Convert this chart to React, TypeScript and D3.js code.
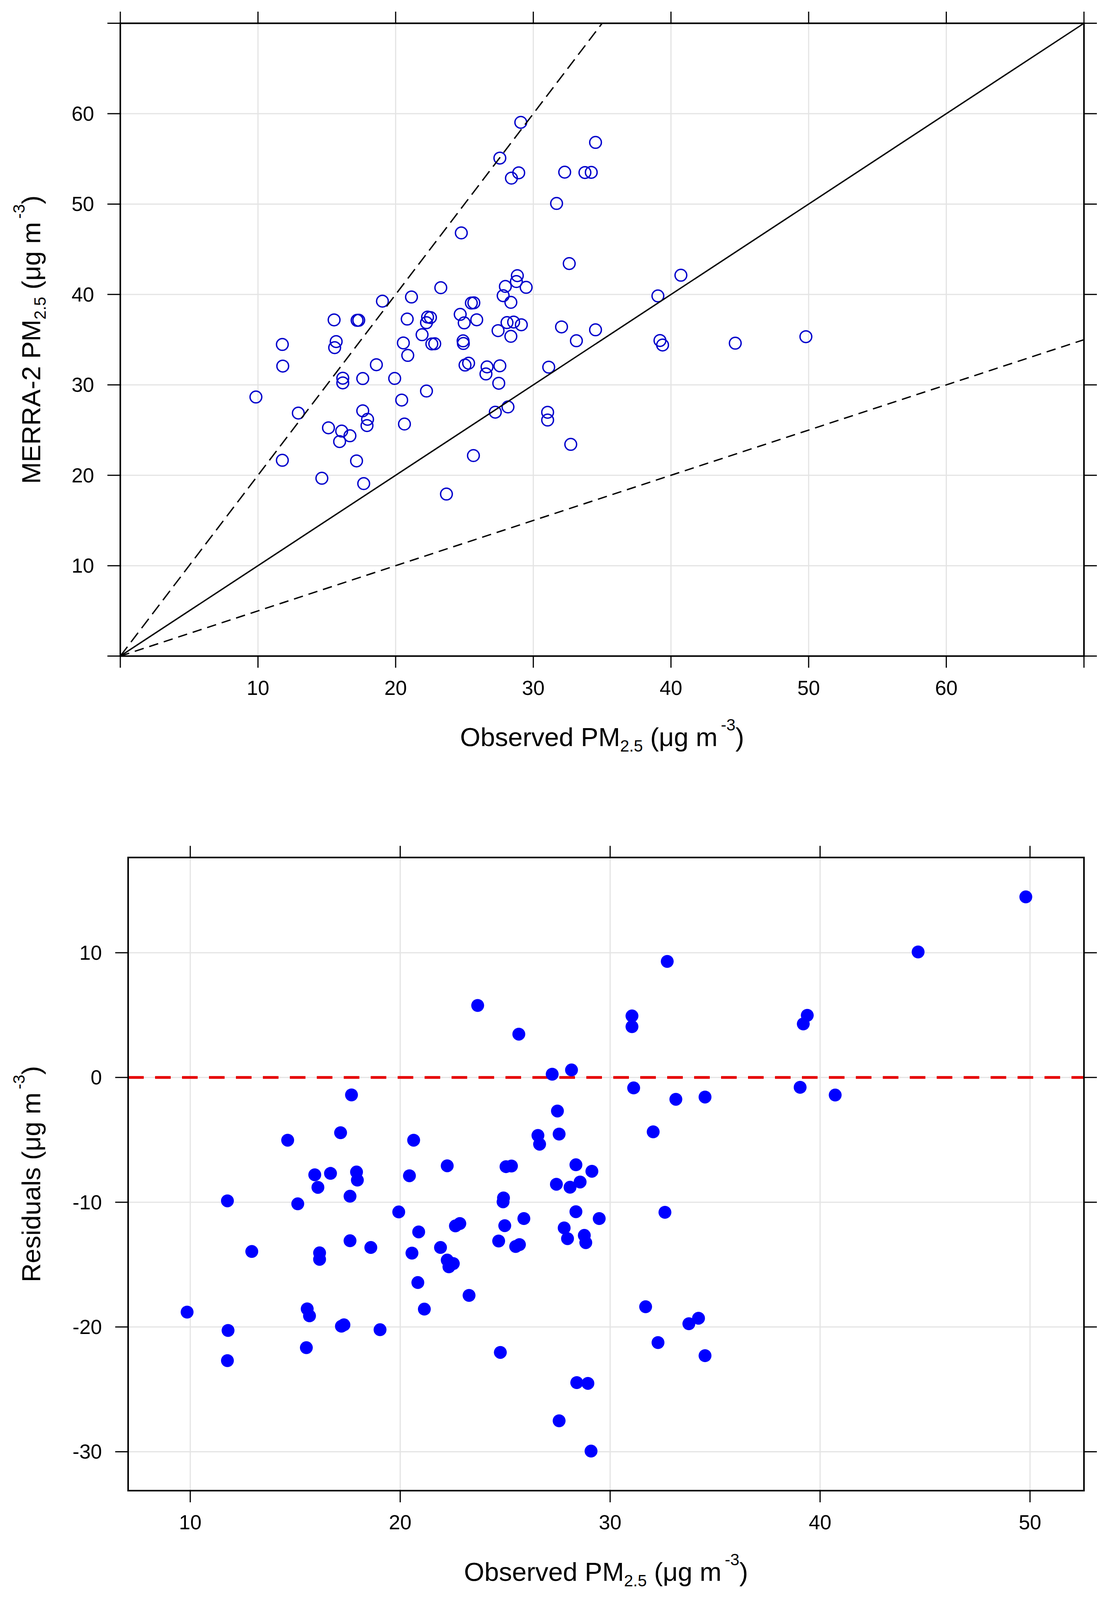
import React, { useEffect } from "react";
import * as d3 from "d3";

// Observed PM2.5 (µg m-3)
const observed = [
  9.85, 11.77, 11.8, 11.77, 12.93, 14.64, 15.12, 15.57, 15.68, 15.53,
  15.93, 16.08, 16.16, 16.16, 16.68, 17.16, 17.2, 17.32, 17.61, 17.61,
  17.68, 17.92, 17.96, 18.6, 19.04, 19.93, 20.44, 20.56, 20.64, 20.84,
  20.88, 21.15, 21.92, 22.24, 22.24, 22.32, 22.53, 22.63, 22.84, 23.28,
  23.69, 24.69, 24.77, 24.9, 24.92, 24.98, 25.04, 25.3, 25.5, 25.68,
  25.65, 25.89, 26.56, 26.64, 27.24, 27.44, 27.49, 27.57, 27.57, 27.81,
  27.97, 28.09, 28.16, 28.37, 28.37, 28.41, 28.57, 28.77, 28.84, 28.94,
  29.09, 29.13, 29.48, 31.04, 31.04, 31.12, 31.69, 32.05, 32.28, 32.61,
  32.72, 33.13, 33.75, 34.21, 34.52, 34.52, 39.05, 39.2, 39.39, 40.72,
  44.67, 49.8,
];

// MERRA-2 PM2.5 (µg m-3)
const merra = [
  28.66, 21.66, 32.08, 34.47, 26.88, 19.67, 25.25, 34.12, 34.79, 37.19,
  23.73, 24.89, 30.22, 30.74, 24.37, 21.59, 37.14, 37.15, 27.13, 30.7,
  19.08, 25.5, 26.19, 32.23, 39.26, 30.71, 28.32, 34.64, 25.67, 37.28,
  33.26, 39.72, 35.55, 29.32, 36.88, 37.5, 37.45, 34.53, 34.55, 40.75,
  17.92, 37.8, 46.81, 34.87, 34.58, 36.86, 32.19, 32.4, 39.05, 39.08,
  22.18, 37.2, 31.21, 31.99, 26.98, 36.0, 30.18, 32.11, 55.09, 39.87,
  40.89, 36.89, 27.56, 35.37, 39.13, 52.87, 36.95, 41.43, 42.08, 53.46,
  59.04, 36.65, 40.79, 26.11, 26.97, 31.96, 50.07, 36.41, 53.53, 43.42,
  23.42, 34.88, 53.49, 53.51, 36.09, 56.82, 39.84, 34.91, 34.41, 42.13,
  34.61, 35.33,
];

// Residuals (µg m-3)
const residuals = [
  -18.81, -9.89, -20.28, -22.7, -13.95, -5.03, -10.13, -18.55, -19.11, -21.66,
  -7.8, -8.81, -14.06, -14.58, -7.69, -4.43, -19.94, -19.83, -9.52, -13.09,
  -1.4, -7.58, -8.23, -13.63, -20.22, -10.78, -7.88, -14.08, -5.03, -16.44,
  -12.38, -18.57, -13.63, -7.08, -14.64, -15.18, -14.92, -11.9, -11.71, -17.47,
  5.77, -13.11, -22.04, -9.97, -9.66, -11.88, -7.15, -7.1, -13.55, -13.4,
  3.47, -11.31, -4.65, -5.35, 0.26, -8.56, -2.69, -4.54, -27.52, -12.06,
  -12.92, -8.8, 0.6, -7.0, -10.76, -24.46, -8.38, -12.66, -13.24, -24.52,
  -29.95, -7.52, -11.31, 4.93, 4.07, -0.84, -18.38, -4.36, -21.25, -10.81,
  9.3, -1.75, -19.74, -19.3, -1.57, -22.3, -0.79, 4.29, 4.98, -1.41,
  10.06, 14.47,
];

const topTickMarks = [0, 10, 20, 30, 40, 50, 60, 70];
const topTickLabels = [10, 20, 30, 40, 50, 60];
const botXTicks = [10, 20, 30, 40, 50];
const botYTicks = [-30, -20, -10, 0, 10];
const refLines = [
  { slope: 1, dash: "none" },
  { slope: 2, dash: "30 15" },
  { slope: 0.5, dash: "24 15" },
];

const FONT = "'Liberation Sans', Arial, Helvetica, sans-serif";
const TICK_FS = 52;
const TITLE_FS = 67;
const SUB_FS = 42;

const W = 2857;
const H_REF = 4536;

function XTitle({ x, y }: { x: number; y: number }) {
  return (
    <text x={x} y={y} textAnchor="middle" fontFamily={FONT} fontSize={TITLE_FS} fill="#000">
      Observed PM
      <tspan fontSize={SUB_FS} dy={14}>2.5</tspan>
      <tspan dy={-14}> (μg m</tspan>
      <tspan fontSize={SUB_FS} dy={-40}>{"\u2009-3"}</tspan>
      <tspan dy={40}>)</tspan>
    </text>
  );
}

function YTitle({ x, y, prefix }: { x: number; y: number; prefix: string }) {
  if (prefix === "Residuals") {
    return (
      <text transform={`translate(${x},${y}) rotate(-90)`} textAnchor="middle" fontFamily={FONT} fontSize={TITLE_FS} fill="#000">
        Residuals (μg m
        <tspan fontSize={SUB_FS} dy={-40}>{"\u2009-3"}</tspan>
        <tspan dy={40}>)</tspan>
      </text>
    );
  }
  return (
    <text transform={`translate(${x},${y}) rotate(-90)`} textAnchor="middle" fontFamily={FONT} fontSize={TITLE_FS} fill="#000">
      {prefix} PM
      <tspan fontSize={SUB_FS} dy={14}>2.5</tspan>
      <tspan dy={-14}> (μg m</tspan>
      <tspan fontSize={SUB_FS} dy={-40}>{"\u2009-3"}</tspan>
      <tspan dy={40}>)</tspan>
    </text>
  );
}

export default function App() {
  useEffect(() => {
    document.body.style.margin = "0";
    document.documentElement.style.overflow = "hidden";
  }, []);

  // fit the reference layout to the actual viewport height
  const vh = typeof window !== "undefined" && window.innerHeight > 0 ? window.innerHeight : H_REF;
  const H = Math.min(H_REF, vh);
  const k = H / H_REF;
  const Y = (v: number) => v * k;

  // ---- top panel ----
  const xT = d3.scaleLinear().domain([0, 70]).range([308, 2775]);
  const yT = d3.scaleLinear().domain([0, 70]).range([Y(1860), Y(66)]);
  const [tL, tR] = xT.range();
  const [tB, tTop] = yT.range();

  // ---- bottom panel ----
  const xB = d3.scaleLinear().domain([7.04, 52.57]).range([328, 2775]);
  const yB = d3.scaleLinear().domain([-33.12, 17.63]).range([Y(4226), Y(2431)]);
  const [bL, bR] = xB.range();
  const [bB, bTop] = yB.range();

  const TL = 33;
  const TLV = 33 * k;
  const gridColor = "#e4e4e4";

  const lineGen = d3.line<[number, number]>().x((d) => xT(d[0])).y((d) => yT(d[1]));

  return (
    <svg width={W} height={H} viewBox={`0 0 ${W} ${H}`} style={{ display: "block", background: "#fff" }}>
      <rect x={0} y={0} width={W} height={H} fill="#fff" />

      {/* ================= TOP PANEL ================= */}
      <g>
        {topTickLabels.map((v) => (
          <line key={"tgx" + v} x1={xT(v)} x2={xT(v)} y1={tTop} y2={tB} stroke={gridColor} strokeWidth={3} />
        ))}
        {topTickLabels.map((v) => (
          <line key={"tgy" + v} x1={tL} x2={tR} y1={yT(v)} y2={yT(v)} stroke={gridColor} strokeWidth={3} />
        ))}
        {observed.map((o, i) => (
          <circle key={"tp" + i} cx={xT(o)} cy={yT(merra[i])} r={15} fill="none" stroke="#0000cc" strokeWidth={3.5} />
        ))}
        {refLines.map((r, i) => {
          const xEnd = Math.min(70, 70 / r.slope);
          return (
            <path key={"ref" + i} d={lineGen([[0, 0], [xEnd, xEnd * r.slope]]) as string} fill="none" stroke="#000" strokeWidth={3.5} strokeDasharray={r.dash} />
          );
        })}
        <rect x={tL} y={tTop} width={tR - tL} height={tB - tTop} fill="none" stroke="#000" strokeWidth={4} />
        {topTickMarks.map((v) => (
          <g key={"tt" + v}>
            <line x1={xT(v)} x2={xT(v)} y1={tB} y2={tB + TLV} stroke="#000" strokeWidth={3} />
            <line x1={xT(v)} x2={xT(v)} y1={tTop} y2={tTop - TLV} stroke="#000" strokeWidth={3} />
            <line x1={tL} x2={tL - TL} y1={yT(v)} y2={yT(v)} stroke="#000" strokeWidth={3} />
            <line x1={tR} x2={tR + TL} y1={yT(v)} y2={yT(v)} stroke="#000" strokeWidth={3} />
          </g>
        ))}
        {topTickLabels.map((v) => (
          <text key={"txl" + v} x={xT(v)} y={tB + Y(90) + 18} textAnchor="middle" fontFamily={FONT} fontSize={TICK_FS}>{v}</text>
        ))}
        {topTickLabels.map((v) => (
          <text key={"tyl" + v} x={tL - 67} y={yT(v) + 18} textAnchor="end" fontFamily={FONT} fontSize={TICK_FS}>{v}</text>
        ))}
        <XTitle x={(tL + tR) / 2} y={tB + Y(229) + 24} />
        <YTitle x={103} y={(tTop + tB) / 2} prefix="MERRA-2" />
      </g>

      {/* ================= BOTTOM PANEL ================= */}
      <g>
        {botXTicks.map((v) => (
          <line key={"bgx" + v} x1={xB(v)} x2={xB(v)} y1={bTop} y2={bB} stroke={gridColor} strokeWidth={3} />
        ))}
        {botYTicks.map((v) => (
          <line key={"bgy" + v} x1={bL} x2={bR} y1={yB(v)} y2={yB(v)} stroke={gridColor} strokeWidth={3} />
        ))}
        <line x1={bL} x2={bR} y1={yB(0)} y2={yB(0)} stroke="#e60000" strokeWidth={7} strokeDasharray="40 29" />
        {observed.map((o, i) => (
          <circle key={"bp" + i} cx={xB(o)} cy={yB(residuals[i])} r={16.5} fill="#0000ff" />
        ))}
        <rect x={bL} y={bTop} width={bR - bL} height={bB - bTop} fill="none" stroke="#000" strokeWidth={4} />
        {botXTicks.map((v) => (
          <g key={"bxt" + v}>
            <line x1={xB(v)} x2={xB(v)} y1={bB} y2={bB + TLV} stroke="#000" strokeWidth={3} />
            <line x1={xB(v)} x2={xB(v)} y1={bTop} y2={bTop - TLV} stroke="#000" strokeWidth={3} />
            <text x={xB(v)} y={bB + Y(90) + 18} textAnchor="middle" fontFamily={FONT} fontSize={TICK_FS}>{v}</text>
          </g>
        ))}
        {botYTicks.map((v) => (
          <g key={"byt" + v}>
            <line x1={bL} x2={bL - TL} y1={yB(v)} y2={yB(v)} stroke="#000" strokeWidth={3} />
            <line x1={bR} x2={bR + TL} y1={yB(v)} y2={yB(v)} stroke="#000" strokeWidth={3} />
            <text x={bL - 67} y={yB(v) + 18} textAnchor="end" fontFamily={FONT} fontSize={TICK_FS}>{v}</text>
          </g>
        ))}
        <XTitle x={(bL + bR) / 2} y={bB + Y(229) + 24} />
        <YTitle x={103} y={(bTop + bB) / 2} prefix="Residuals" />
      </g>
    </svg>
  );
}
